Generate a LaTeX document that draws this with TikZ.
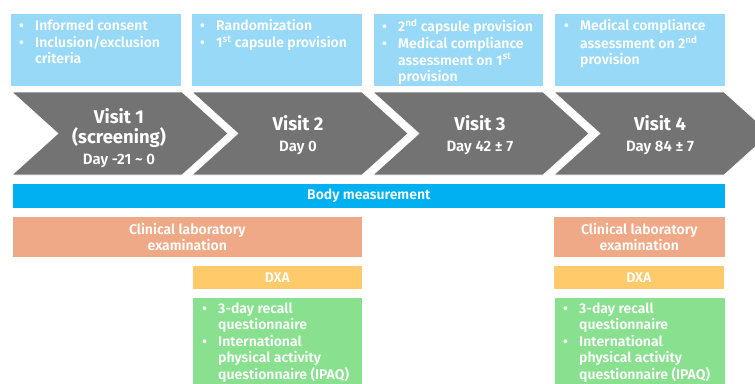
\documentclass[tikz,border=0pt]{standalone}
\usepackage{fontspec}
\setmainfont{Fira Sans}[UprightFont={* SemiBold}, BoldFont={* Bold}]
\usetikzlibrary{positioning}

\definecolor{infoblue}{HTML}{97D9F7}
\definecolor{chevgray}{HTML}{737373}
\definecolor{bodyblue}{HTML}{00B0F0}
\definecolor{labsalmon}{HTML}{F0A987}
\definecolor{dxayellow}{HTML}{FFCA6A}
\definecolor{qgreen}{HTML}{89E08F}

% bullet list set as a small table: bullet column, then the text
\newcommand{\blist}[1]{\begin{tabular}{@{}p{16pt}@{}l@{}}#1\end{tabular}}
\newcommand{\visitline}[1]{{\fontsize{18.5}{20.5}\selectfont\bfseries #1}}

\tikzset{
    box/.style = {draw = white, line width = 0.6pt, inner sep = 0pt, minimum height = #1, anchor = north west},
    listtext/.style = {text = white, inner sep = 0pt, anchor = north west, font = \fontsize{14}{16.5}\selectfont},
    midtext/.style = {text = white, align = center, inner sep = 0pt, font = \fontsize{14}{15.5}\selectfont},
    visittext/.style = {text = white, align = center, inner sep = 0pt, font = \fontsize{15}{20.5}\selectfont},
    chevron/.style = {fill = chevgray, draw = white, line width = 0.6pt}
}

\begin{document}
\begin{tikzpicture}[x = 1pt, y = -1pt, line join = round]
    \useasboundingbox (0,0) rectangle (755,383);
    \clip (0,0) rectangle (755,383);

    % what is done at each visit
    \node[box = 73pt, fill = infoblue, minimum width = 171pt] (info1) at (10,13) {};
    \node[box = 73pt, fill = infoblue, minimum width = 171pt] (info2) at (191,13) {};
    \node[box = 73pt, fill = infoblue, minimum width = 170pt] (info3) at (373,13) {};
    \node[box = 73pt, fill = infoblue, minimum width = 171pt] (info4) at (554,13) {};
    \node[listtext] (infotext1) at ([shift = {(9,6)}]info1.north west)
        {\blist{\textbullet & Informed consent\\ \textbullet & Inclusion/exclusion\\ & criteria}};
    \node[listtext] (infotext2) at ([shift = {(9,6)}]info2.north west)
        {\blist{\textbullet & Randomization\\ \textbullet & 1\textsuperscript{st} capsule provision}};
    \node[listtext] (infotext3) at ([shift = {(9,6)}]info3.north west)
        {\blist{\textbullet & 2\textsuperscript{nd} capsule provision\\ \textbullet & Medical compliance\\
         & assessment on 1\textsuperscript{st}\\ & provision}};
    \node[listtext] (infotext4) at ([shift = {(10,6)}]info4.north west)
        {\blist{\textbullet & Medical compliance\\ & assessment on 2\textsuperscript{nd}\\ & provision}};

    % timeline
    \foreach \x in {12, 192, 373, 554} {
        \draw[chevron] (\x,92) -- (\x+170,92) -- (\x+216,133.5) -- (\x+170,175)
            -- (\x,175) -- (\x+46,133.5) -- cycle;
    }
    \node[visittext] (visit1) at (119,138)
        {\visitline{Visit 1}\\ \visitline{(screening)}\\ Day -21 \textasciitilde{} 0};
    \node[visittext] (visit2) at (298,135)
        {\visitline{Visit 2}\\ Day 0};
    \node[visittext] (visit3) at (480,135)
        {\visitline{Visit 3}\\ Day 42 ± 7};
    \node[visittext] (visit4) at (660,135)
        {\visitline{Visit 4}\\ Day 84 ± 7};

    % measurements
    \node[box = 25pt, fill = bodyblue, minimum width = 713pt] (body) at (12,183) {};
    \node[midtext] (bodytext) at (body.center) {Body measurement};

    \node[box = 41pt, fill = labsalmon, minimum width = 350pt] (lab1) at (12,216) {};
    \node[box = 41pt, fill = labsalmon, minimum width = 172pt] (lab2) at (553,216) {};
    \node[midtext] (labtext1) at (lab1.center) {Clinical laboratory\\ examination};
    \node[midtext] (labtext2) at (lab2.center) {Clinical laboratory\\ examination};

    \node[box = 24pt, fill = dxayellow, minimum width = 170pt] (dxa1) at (192,265) {};
    \node[box = 24pt, fill = dxayellow, minimum width = 171pt] (dxa2) at (553,265) {};
    \node[midtext] (dxatext1) at (dxa1.center) {DXA};
    \node[midtext] (dxatext2) at (dxa2.center) {DXA};

    \node[box = 90pt, fill = qgreen, minimum width = 170pt] (quest1) at (192,297) {};
    \node[box = 90pt, fill = qgreen, minimum width = 171pt] (quest2) at (554,297) {};
    \node[listtext] (questtext1) at ([shift = {(10,4.5)}]quest1.north west)
        {\blist{\textbullet & 3-day recall\\ & questionnaire\\ \textbullet & International\\
         & physical activity\\ & questionnaire (IPAQ)}};
    \node[listtext] (questtext2) at ([shift = {(9,4.5)}]quest2.north west)
        {\blist{\textbullet & 3-day recall\\ & questionnaire\\ \textbullet & International\\
         & physical activity\\ & questionnaire (IPAQ)}};

\end{tikzpicture}
\end{document}
